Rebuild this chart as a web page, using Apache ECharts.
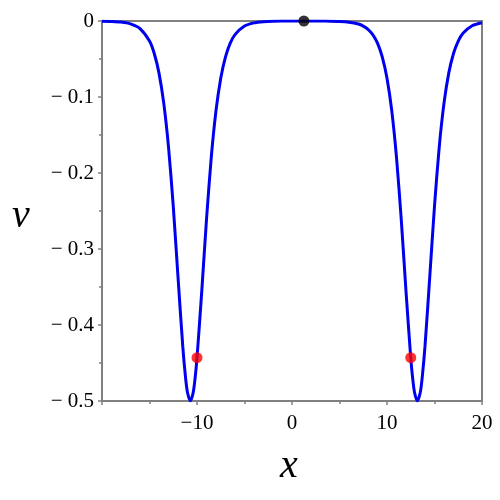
<!DOCTYPE html>
<html>
<head>
<meta charset="utf-8">
<script src="https://cdn.jsdelivr.net/npm/echarts@6/dist/echarts.min.js"></script>
<style>
  html, body { margin: 0; padding: 0; background: #fff; }
  #chart { width: 500px; height: 500px; }
</style>
</head>
<body>
<div id="chart"></div>
<script>
// curve samples
const curveX = [-20, -19, -18, -17, -16, -15, -14.5, -14, -13.5, -13, -12.5, -12, -11.5, -11.2, -11, -10.7,
  -10.4, -10.2, -10, -9.5, -9, -8.5, -8, -7.5, -7, -6.5, -6, -5, -4, -3, -2, -1, 0, 1, 2, 3, 4, 5, 6, 7,
  7.5, 8, 8.5, 9, 9.5, 10, 10.5, 11, 11.5, 12, 12.5, 12.7, 12.9, 13.2, 13.5, 13.7, 14, 14.5, 15, 15.5,
  16, 16.5, 17, 17.5, 18, 19, 20]
const curveV = [-0.0002, -0.0005, -0.0013, -0.0037, -0.0099, -0.0264, -0.0428, -0.0686, -0.1081, -0.1656,
  -0.2435, -0.3368, -0.4278, -0.470, -0.4889, -0.5,
  -0.4889, -0.470, -0.4434, -0.3558, -0.2612, -0.1796, -0.118, -0.0753, -0.0471, -0.0291, -0.0179, -0.0067,
  -0.0025, -0.0009, -0.0003, -0.0001, 0, 0, 0, -0.0001, -0.0002, -0.0005, -0.0015, -0.004,
  -0.0067, -0.0109, -0.0179, -0.0291, -0.0471, -0.0753, -0.118, -0.1796, -0.2612, -0.3558, -0.4434, -0.470,
  -0.4889, -0.5, -0.4889, -0.470, -0.4278, -0.3368, -0.2435, -0.1656,
  -0.1081, -0.0686, -0.0428, -0.0264, -0.0162, -0.006, -0.0022]

const blackX = [1.25]
const blackV = [0]
const redX = [-10, 12.5]
const redV = [-0.443, -0.443]

const xTicks = [-20, -10, 0, 10, 20]
const yTicks = [-0.5, -0.4, -0.3, -0.2, -0.1, 0]

const chart = echarts.init(document.getElementById('chart'))

const axisGray = '#808080'
const serif = '"Liberation Serif", "DejaVu Serif", serif'

const minus = '\u2212'

const option = {
  animation: false,
  grid: {
    left: 102,
    right: 18,
    top: 21,
    bottom: 99,
    show: true,
    borderColor: axisGray,
    borderWidth: 2
  },
  xAxis: {
    type: 'value',
    min: xTicks[0],
    max: xTicks[xTicks.length - 1],
    interval: 10,
    axisLine: { show: true, onZero: false, lineStyle: { color: axisGray, width: 2 } },
    axisTick: { show: true, length: 4, lineStyle: { color: axisGray, width: 1.5 } },
    minorTick: { show: true, splitNumber: 2, length: 3, lineStyle: { color: axisGray, width: 1.5 } },
    splitLine: { show: false },
    axisLabel: {
      color: '#000',
      fontFamily: serif,
      fontSize: 21,
      margin: 12,
      formatter: function (v) {
        if (v === -20) return ''
        return v < 0 ? minus + Math.abs(v) : String(v)
      }
    }
  },
  yAxis: {
    type: 'value',
    min: yTicks[0],
    max: yTicks[yTicks.length - 1],
    interval: 0.1,
    axisLine: { show: true, onZero: false, lineStyle: { color: axisGray, width: 2 } },
    axisTick: { show: true, length: 4, lineStyle: { color: axisGray, width: 1.5 } },
    minorTick: { show: true, splitNumber: 2, length: 3, lineStyle: { color: axisGray, width: 1.5 } },
    splitLine: { show: false },
    axisLabel: {
      color: '#000',
      fontFamily: serif,
      fontSize: 21,
      margin: 8,
      formatter: function (v) {
        if (Math.abs(v) < 1e-9) return '0'
        return minus + ' ' + Math.abs(v).toFixed(1)
      }
    }
  },
  graphic: [
    {
      type: 'text',
      left: 12,
      top: 196,
      style: { text: 'v', font: 'italic 40px ' + serif, fill: '#000' }
    },
    {
      type: 'text',
      left: 280,
      top: 446,
      style: { text: 'x', font: 'italic 40px ' + serif, fill: '#000' }
    }
  ],
  series: [
    {
      type: 'line',
      data: curveX.map((x, i) => [x, curveV[i]]),
      showSymbol: false,
      smooth: 0.25,
      lineStyle: { color: '#0000f0', width: 3 },
      z: 2
    },
    {
      type: 'scatter',
      data: blackX.map((x, i) => [x, blackV[i]]),
      symbolSize: 11,
      itemStyle: { color: '#000' },
      z: 3
    },
    {
      type: 'scatter',
      data: redX.map((x, i) => [x, redV[i]]),
      symbolSize: 11,
      itemStyle: { color: '#ff0000' },
      z: 3
    }
  ]
}

chart.setOption(option)
</script>
</body>
</html>
